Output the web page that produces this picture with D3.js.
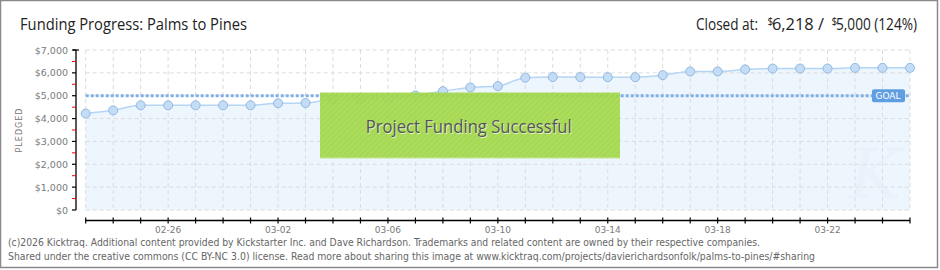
<!DOCTYPE html>
<html><head><meta charset="utf-8">
<script src="https://cdn.jsdelivr.net/npm/d3@7"></script>
<style>
html,body{margin:0;padding:0;background:#fff;}
svg{display:block;}
</style></head>
<body>
<script>
// ---- data ----
const dates = ["02-23","02-24","02-25","02-26","02-27","02-28","03-01","03-02","03-03","03-04","03-05","03-06","03-07","03-08","03-09","03-10","03-11","03-12","03-13","03-14","03-15","03-16","03-17","03-18","03-19","03-20","03-21","03-22","03-23","03-24","03-25"];
const pledged = [4220,4360,4580,4580,4580,4580,4580,4670,4680,4840,4840,4870,5010,5200,5360,5420,5790,5815,5815,5810,5810,5900,6060,6060,6150,6190,6190,6190,6218,6218,6218];
const xTickLabels = ["02-26","03-02","03-06","03-10","03-14","03-18","03-22"];
const yTicks = [0,1000,2000,3000,4000,5000,6000,7000];
const goal = 5000;
const title = "Funding Progress: Palms to Pines";
const footer = ["(c)2026 Kicktraq. Additional content provided by Kickstarter Inc. and Dave Richardson. Trademarks and related content are owned by their respective companies.",
"Shared under the creative commons (CC BY-NC 3.0) license. Read more about sharing this image at www.kicktraq.com/projects/davierichardsonfolk/palms-to-pines/#sharing"];

const W=940,H=270;
const svg=d3.select("body").append("svg").attr("width",W).attr("height",H);
const defs=svg.append("defs");
const pat=defs.append("pattern").attr("id","hatch").attr("patternUnits","userSpaceOnUse").attr("width",4).attr("height",4).attr("patternTransform","rotate(45)");
pat.append("rect").attr("width",4).attr("height",4).attr("fill","#a6da4e");
pat.append("rect").attr("width",1.5).attr("height",4).attr("fill","#9dd444");

// border
svg.append("rect").attr("x",0.5).attr("y",0.5).attr("width",W-3).attr("height",H-3).attr("fill","#fff").attr("stroke","#8a8a8a").attr("stroke-width",1.5);

const x=d3.scalePoint().domain(dates).range([85.7,910]);
const y=d3.scaleLinear().domain([0,7000]).range([210,50]);

const titleFont="'Open Sans',sans-serif";
svg.append("text").attr("x",20).attr("y",30).attr("font-family",titleFont).attr("font-size",16).attr("fill","#222")
 .attr("textLength",227).attr("lengthAdjust","spacingAndGlyphs").text(title);

// header: closed at
const last = pledged[pledged.length-1];
const hdrParts = [
  {t:"Closed at:", x:696, len:62, fs:16, dy:0},
  {t:"$", x:767.5, len:null, fs:10, dy:-5},
  {t:d3.format(",")(last)+" /", x:772, len:52, fs:16, dy:0},
  {t:"$", x:831.5, len:null, fs:10, dy:-5},
  {t:d3.format(",")(goal)+" ("+Math.round(last/goal*100)+"%)", x:836, len:81, fs:16, dy:0}
];
hdrParts.forEach(p=>{
  const t=svg.append("text").attr("x",p.x).attr("y",30+p.dy).attr("font-family",titleFont).attr("font-size",p.fs).attr("fill","#222").text(p.t);
  if(p.len) t.attr("textLength",p.len).attr("lengthAdjust","spacingAndGlyphs");
});

// grid
const g=svg.append("g");
g.selectAll(".vg").data(dates).join("line").attr("x1",d=>x(d)).attr("x2",d=>x(d)).attr("y1",50).attr("y2",210)
 .attr("stroke","#dcdcdc").attr("stroke-dasharray","4,3");
g.selectAll(".hg").data(yTicks).join("line").attr("x1",85.7).attr("x2",910).attr("y1",d=>y(d)).attr("y2",d=>y(d))
 .attr("stroke","#dcdcdc").attr("stroke-dasharray","4,3");

// area
const area=d3.area().x((d,i)=>x(dates[i])).y0(y(0)).y1(d=>y(d)).curve(d3.curveMonotoneX);
svg.append("path").datum(pledged).attr("d",area).attr("fill","#e3effc").attr("fill-opacity",0.65);
g.raise();
const line=d3.line().x((d,i)=>x(dates[i])).y(d=>y(d)).curve(d3.curveMonotoneX);
svg.append("path").datum(pledged).attr("d",line).attr("fill","none").attr("stroke","#b5d5f5").attr("stroke-width",1.5);

// watermark
svg.append("text").attr("x",875).attr("y",198).attr("text-anchor","middle").attr("font-family","'DejaVu Serif',serif").attr("font-style","italic")
 .attr("font-size",70).attr("fill","#e6eef7").attr("opacity",0.45).text("K");

// goal line
svg.append("line").attr("x1",85.7).attr("x2",910).attr("y1",y(goal)).attr("y2",y(goal))
 .attr("stroke","#7fb0e6").attr("stroke-width",3).attr("stroke-dasharray","3,2");

// points
svg.selectAll(".pt").data(pledged).join("circle").attr("cx",(d,i)=>x(dates[i])).attr("cy",d=>y(d)).attr("r",4.5)
 .attr("fill","#c3ddf6").attr("stroke","#93b8df").attr("stroke-width",1);

// goal label
const gl=svg.append("g");
gl.append("rect").attr("x",872).attr("y",y(goal)-6.5).attr("width",33).attr("height",13).attr("rx",2).attr("fill","#5f9ee0");
gl.append("text").attr("x",888).attr("y",y(goal)+3.5).attr("text-anchor","middle").attr("font-family","'DejaVu Sans',sans-serif")
 .attr("font-size",9).attr("fill","#fff").text("GOAL");

// success box
svg.append("rect").attr("x",320).attr("y",92.5).attr("width",300).attr("height",65.5).attr("fill","url(#hatch)").attr("opacity",0.92);
svg.append("line").attr("x1",320).attr("x2",620).attr("y1",158).attr("y2",158).attr("stroke","#c7e59a").attr("stroke-width",1.2);
svg.append("text").attr("x",469.5).attr("y",133.5).attr("text-anchor","middle").attr("font-family",titleFont).attr("font-size",19).attr("fill","#fff").attr("opacity",0.7)
 .attr("textLength",206).attr("lengthAdjust","spacingAndGlyphs").text("Project Funding Successful");
svg.append("text").attr("x",468.7).attr("y",132.7).attr("text-anchor","middle").attr("font-family",titleFont).attr("font-size",19).attr("fill","#555")
 .attr("textLength",206).attr("lengthAdjust","spacingAndGlyphs").text("Project Funding Successful");

// y axis
const ya=svg.append("g").attr("transform","translate(76,0)");
ya.append("line").attr("y1",50).attr("y2",210).attr("stroke","#000").attr("stroke-width",1.3);
ya.selectAll(".mt").data(d3.range(500,7000,1000)).join("line").attr("x1",-4).attr("x2",0).attr("y1",d=>y(d)).attr("y2",d=>y(d)).attr("stroke","#e00").attr("stroke-width",1);
ya.selectAll(".tk").data(yTicks).join("line").attr("x1",-4).attr("x2",0).attr("y1",d=>y(d)).attr("y2",d=>y(d)).attr("stroke","#000").attr("stroke-width",1.2);
ya.append("line").attr("x1",-3).attr("x2",3).attr("y1",50).attr("y2",50).attr("stroke","#000").attr("stroke-width",1.2);
ya.selectAll(".yl").data(yTicks).join("text").attr("x",-8).attr("y",d=>y(d)+3.5).attr("text-anchor","end")
 .attr("font-family","'DejaVu Sans',sans-serif").attr("font-size",9.5).attr("fill","#7a7a7a").text(d=>"$"+d3.format(",")(d));
svg.append("text").attr("transform","translate(22,130) rotate(-90)").attr("text-anchor","middle").attr("font-family","'DejaVu Sans',sans-serif")
 .attr("font-size",8).attr("letter-spacing",1).attr("fill","#777").text("PLEDGED");

// x axis
const xa=svg.append("g").attr("transform","translate(0,220.5)");
xa.append("line").attr("x1",85.7).attr("x2",910).attr("stroke","#000").attr("stroke-width",1.3);
xa.selectAll(".xt").data(dates).join("line").attr("x1",d=>x(d)).attr("x2",d=>x(d)).attr("y1",-3).attr("y2",3).attr("stroke","#000").attr("stroke-width",1.2);
xa.selectAll(".xl").data(xTickLabels).join("text").attr("x",d=>x(d)).attr("y",12).attr("text-anchor","middle")
 .attr("font-family","'DejaVu Sans',sans-serif").attr("font-size",9).attr("fill","#7a7a7a").text(d=>d);

// footer
const fl=[752,807];
svg.selectAll(".ft").data(footer).join("text").attr("x",8).attr("y",(d,i)=>246+i*14)
 .attr("font-family","'DejaVu Sans Condensed',sans-serif").attr("font-size",10).attr("fill","#666")
 .attr("textLength",(d,i)=>fl[i]).attr("lengthAdjust","spacingAndGlyphs").text(d=>d);
</script>
</body></html>
